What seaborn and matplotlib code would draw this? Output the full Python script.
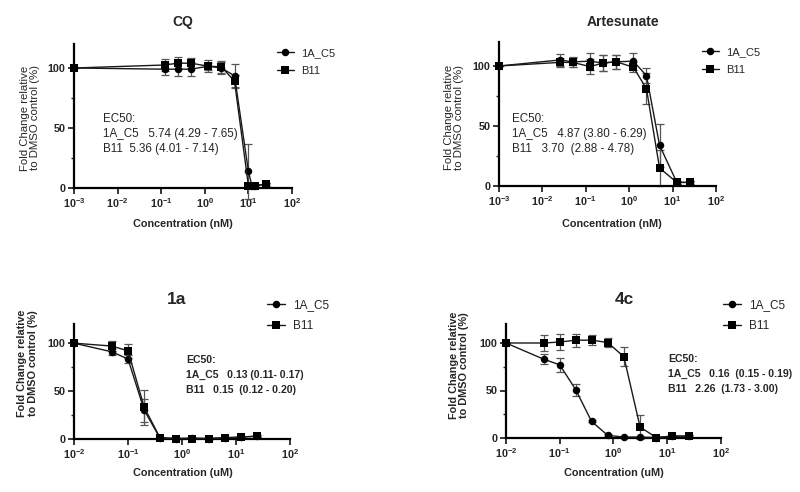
import math

import matplotlib
matplotlib.use("Agg")
import matplotlib.pyplot as plt
import pandas as pd
import seaborn as sns

# CQ (nM)
cq_conc = [0.001, 0.12, 0.24, 0.48, 1.2, 2.4, 4.8, 10, 12, 14, 25]
cq_a = [100, 99, 99, 99, 101.5, 100, 93.5, 14, 2, 2, 3]
cq_a_sd = [0, 5, 6, 6, 5, 5, 10, 23, 1, 1, 1]
cq_b = [100, 102.5, 104, 104, 101.5, 101, 89, 2, 2, 2, 3]
cq_b_sd = [0, 5, 5, 4, 3, 5, 5, 1, 1, 1, 1]

# Artesunate (nM)
art_conc = [0.001, 0.025, 0.05, 0.125, 0.25, 0.5, 1.25, 2.5, 5, 12.5, 25]
art_a = [100, 105, 103.5, 104, 102.5, 103.5, 104, 92, 34, 3, 3]
art_a_sd = [0, 5, 4, 7, 7, 6, 7, 6, 18, 1, 1]
art_b = [100, 103, 103, 99.5, 102.5, 103.5, 99, 81, 15, 3, 3]
art_b_sd = [0, 4, 4, 6, 7, 6, 4, 13, 15, 1, 1]

# 1a (uM)
c1a_conc = [0.01, 0.05, 0.1, 0.2, 0.39, 0.78, 1.56, 3.125, 6.25, 12.5, 25]
c1a_a = [100, 91, 83.5, 30, 1, 0.5, 1, 0.5, 1.5, 2, 3]
c1a_a_sd = [0, 3, 4, 12, 0.5, 0.5, 0.5, 0.5, 0.5, 1, 1]
c1a_b = [100, 97, 92, 33, 1.5, 0.5, 0.5, 0.5, 1, 2, 3]
c1a_b_sd = [0, 5, 7, 18.5, 0.5, 0.5, 0.5, 0.5, 0.5, 1, 1]

# 4c (uM)
c4c_conc = [0.01, 0.05, 0.1, 0.2, 0.39, 0.78, 1.56, 3.125, 6.25, 12.5, 25]
c4c_a = [100, 83, 77, 50.5, 17.5, 2.8, 1, 1, 0.5, 2, 2]
c4c_a_sd = [0, 5, 7.5, 6.5, 1, 1, 0.5, 0.5, 0.5, 1, 1]
c4c_b = [100, 100, 101, 103, 103, 100.5, 85.5, 11.5, 0.5, 2, 2]
c4c_b_sd = [0, 8.7, 8, 7, 5, 5, 10, 13, 0.5, 1, 1]

series_names = ["1A_C5", "B11"]
ec50_text = {
    "CQ": ["EC50:", "1A_C5   5.74 (4.29 - 7.65)", "B11  5.36 (4.01 - 7.14)"],
    "Artesunate": ["EC50:", "1A_C5   4.87 (3.80 - 6.29)", "B11   3.70  (2.88 - 4.78)"],
    "1a": ["EC50:", "1A_C5   0.13 (0.11- 0.17)", "B11   0.15  (0.12 - 0.20)"],
    "4c": ["EC50:", "1A_C5   0.16  (0.15 - 0.19)", "B11   2.26  (1.73 - 3.00)"],
}

sns.set_theme(style="ticks")
plt.rcParams["font.family"] = ["Liberation Sans", "DejaVu Sans"]
plt.rcParams["mathtext.fontset"] = "custom"
plt.rcParams["mathtext.rm"] = "Liberation Sans"
plt.rcParams["mathtext.bf"] = "Liberation Sans:bold"

W, H = 800, 492
fig = plt.figure(figsize=(8, 4.92), dpi=100)


def fx(x):
    return x / W


def fy(y):
    return 1 - y / H


def panel(box, conc, a, a_sd, b, b_sd, xmin, unit, title, tpos, ylpos, xlpos,
          ecpos, legpos, bottom_row):
    left, top, right, bot = box
    ax = fig.add_axes([fx(left), fy(bot), fx(right - left), (bot - top) / H])
    df = pd.DataFrame({
        "conc": list(conc) * 2,
        "val": list(a) + list(b),
        "sd": list(a_sd) + list(b_sd),
        "line": [series_names[0]] * len(a) + [series_names[1]] * len(b),
    })
    for name, mk in zip(series_names, ["o", "s"]):
        d = df[df["line"] == name]
        ax.errorbar(d["conc"], d["val"], yerr=d["sd"], fmt="none",
                    ecolor="#555555", elinewidth=0.9, capsize=2.6,
                    capthick=0.9, clip_on=False, zorder=2)
        sns.lineplot(data=d, x="conc", y="val", ax=ax, color="#1a1a1a",
                     marker=mk, markersize=5.4, markeredgewidth=0,
                     markerfacecolor="black", linewidth=1.0, label=name,
                     clip_on=False, zorder=3)
    ax.set_xscale("log")
    ax.set_xlim(xmin, 100)
    ax.set_ylim(0, 120)
    exps = list(range(int(round(math.log10(xmin))), 3))
    ax.set_xticks([10.0 ** e for e in exps])
    ax.set_xticklabels([r"$\mathbf{10^{%d}}$" % e for e in exps])
    ax.minorticks_off()
    ax.set_yticks([0, 50, 100])
    ax.set_yticklabels(["0", "50", "100"], fontweight="bold")
    ax.set_yticks([25, 75], minor=True)
    ax.tick_params(axis="both", which="major", length=4, width=1.1,
                   labelsize=7.8, pad=2, color="black")
    ax.tick_params(axis="y", which="minor", length=2.5, width=1.0)
    for s in ["top", "right"]:
        ax.spines[s].set_visible(False)
    for s in ["left", "bottom"]:
        ax.spines[s].set_linewidth(1.6)
        ax.spines[s].set_color("black")
    ax.set_xlabel("")
    ax.set_ylabel("")
    leg_fs = 8.5 if bottom_row else 8
    ax.legend(loc="upper left", frameon=False, fontsize=leg_fs,
              bbox_to_anchor=(fx(legpos[0]), fy(legpos[1])),
              bbox_transform=fig.transFigure, borderaxespad=0, borderpad=0,
              handlelength=1.5, handletextpad=0.7, labelspacing=0.75)

    tfs = 12.5 if bottom_row else 10
    fig.text(fx(tpos[0]), fy(tpos[1]), title, ha="center", va="center",
             fontsize=tfs, fontweight="bold")
    fig.text(fx(ylpos[0]), fy(ylpos[1]),
             "Fold Change relative\nto DMSO control (%)", rotation=90,
             ha="center", va="center", multialignment="center",
             fontsize=7.8 if bottom_row else 8.2,
             fontweight="bold" if bottom_row else "normal", linespacing=1.1)
    fig.text(fx(xlpos[0]), fy(xlpos[1]), "Concentration (%s)" % unit,
             ha="center", va="center", fontsize=7.8, fontweight="bold")
    for i, line in enumerate(ec50_text[title]):
        fig.text(fx(ecpos[0]), fy(ecpos[1] + i * 14.8), line, ha="left",
                 va="center", fontsize=7.6 if bottom_row else 8.4,
                 fontweight="bold" if bottom_row else "normal")
    return ax


panel((74, 44, 292, 188), cq_conc, cq_a, cq_a_sd, cq_b, cq_b_sd, 1e-3, "nM",
      "CQ", (183, 22), (30, 118), (183, 224), (103, 119), (277, 48), False)
panel((499, 42, 716, 186), art_conc, art_a, art_a_sd, art_b, art_b_sd, 1e-3,
      "nM", "Artesunate", (623, 22), (454, 117), (612, 224), (512, 119),
      (702, 47), False)
panel((74, 324, 290, 439), c1a_conc, c1a_a, c1a_a_sd, c1a_b, c1a_b_sd, 1e-2,
      "uM", "1a", (177, 299), (27.5, 363), (183, 473), (186, 360),
      (267, 299.5), True)
panel((506, 324, 721, 438), c4c_conc, c4c_a, c4c_a_sd, c4c_b, c4c_b_sd, 1e-2,
      "uM", "4c", (624, 299), (459, 365), (614, 473), (668, 359),
      (723, 299), True)

fig.savefig("out.png", dpi=100)
